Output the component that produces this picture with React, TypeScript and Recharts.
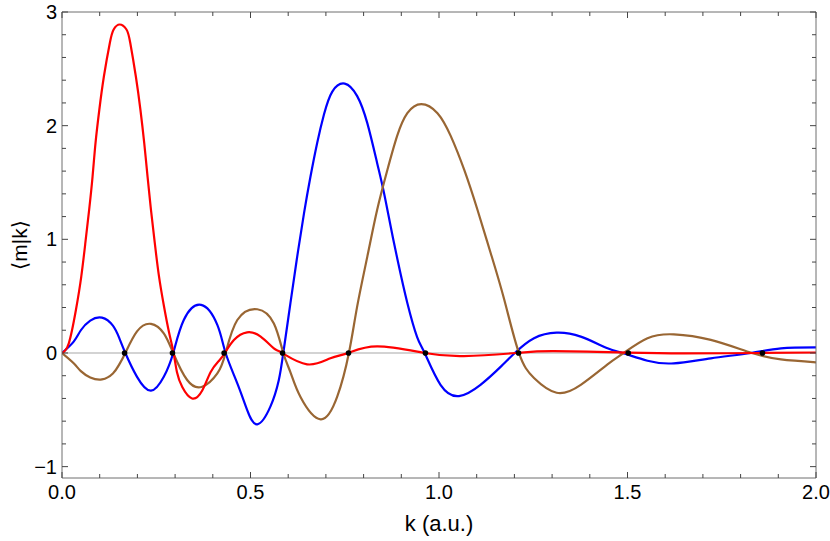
import { ComposedChart, Line, Scatter, XAxis, YAxis, ReferenceLine } from 'recharts';

// curves: [k, <m|k>]
const redCurve: [number, number][] = [
  [0, 0], [0.018, 0.085], [0.037, 0.38], [0.051, 0.67], [0.062, 0.97], [0.072, 1.26],
  [0.081, 1.55], [0.089, 1.85], [0.099, 2.14], [0.111, 2.43], [0.127, 2.73], [0.137, 2.846],
  [0.153, 2.89], [0.171, 2.846], [0.181, 2.73], [0.196, 2.43], [0.208, 2.14], [0.218, 1.85],
  [0.227, 1.55], [0.236, 1.26], [0.246, 0.97], [0.257, 0.68], [0.27, 0.42], [0.284, 0.18],
  [0.296, 0], [0.305, -0.17], [0.319, -0.3], [0.345, -0.4], [0.372, -0.33], [0.394, -0.17],
  [0.416, -0.07], [0.432, 0], [0.456, 0.115], [0.491, 0.182], [0.527, 0.144], [0.562, 0.04],
  [0.584, 0], [0.65, -0.1], [0.712, -0.047], [0.759, 0], [0.836, 0.058], [0.962, 0],
  [1.066, -0.028], [1.205, 0], [1.305, 0.016], [1.5, 0.003], [1.65, -0.004], [1.85, 0], [2, 0.004],
];

const blueCurve: [number, number][] = [
  [0, 0], [0.031, 0.1], [0.05, 0.2], [0.075, 0.285], [0.106, 0.311], [0.135, 0.24], [0.152, 0.13],
  [0.168, 0], [0.199, -0.21], [0.236, -0.332], [0.27, -0.21], [0.295, 0], [0.323, 0.29],
  [0.369, 0.423], [0.412, 0.247], [0.434, 0], [0.465, -0.267], [0.491, -0.5], [0.518, -0.628],
  [0.553, -0.47], [0.575, -0.24], [0.587, 0], [0.606, 0.44], [0.624, 0.85], [0.642, 1.23],
  [0.659, 1.55], [0.677, 1.85], [0.695, 2.1], [0.717, 2.3], [0.75, 2.37], [0.783, 2.26],
  [0.81, 2.02], [0.836, 1.67], [0.854, 1.41], [0.872, 1.11], [0.89, 0.82], [0.916, 0.44],
  [0.942, 0.14], [0.962, 0], [1.004, -0.28], [1.053, -0.379], [1.11, -0.28], [1.164, -0.12],
  [1.201, 0], [1.252, 0.13], [1.312, 0.179], [1.376, 0.144], [1.447, 0.041], [1.487, 0],
  [1.553, -0.068], [1.623, -0.091], [1.721, -0.047], [1.827, 0], [1.907, 0.041], [2, 0.05],
];

const brownCurve: [number, number][] = [
  [0, 0], [0.031, -0.09], [0.05, -0.16], [0.075, -0.215], [0.106, -0.232], [0.135, -0.18], [0.152, -0.1],
  [0.168, 0], [0.199, 0.19], [0.236, 0.256], [0.27, 0.173], [0.295, 0], [0.332, -0.238],
  [0.372, -0.297], [0.412, -0.18], [0.434, 0], [0.465, 0.29], [0.518, 0.385], [0.562, 0.26],
  [0.587, 0], [0.606, -0.17], [0.633, -0.39], [0.686, -0.584], [0.73, -0.385], [0.761, 0],
  [0.783, 0.41], [0.81, 0.85], [0.836, 1.26], [0.863, 1.61], [0.889, 1.91], [0.916, 2.11],
  [0.953, 2.19], [0.996, 2.11], [1.031, 1.91], [1.067, 1.61], [1.102, 1.26], [1.137, 0.88],
  [1.173, 0.47], [1.212, 0], [1.252, -0.22], [1.312, -0.35], [1.376, -0.28], [1.447, -0.1],
  [1.49, 0], [1.553, 0.13], [1.623, 0.164], [1.721, 0.115], [1.83, 0], [1.907, -0.056], [2, -0.082],
];

// black markers on the zero line
const zeroMarks = [0.166, 0.293, 0.43, 0.585, 0.76, 0.964, 1.211, 1.502, 1.858];

const xTicks = [0, 0.1, 0.2, 0.3, 0.4, 0.5, 0.6, 0.7, 0.8, 0.9, 1, 1.1, 1.2, 1.3, 1.4, 1.5, 1.6, 1.7, 1.8, 1.9, 2];
const xMajorTicks = [0, 0.5, 1, 1.5, 2];
const xTickLabels = ['0.0', '0.5', '1.0', '1.5', '2.0'];

const yTicks = [-1, -0.8, -0.6, -0.4, -0.2, 0, 0.2, 0.4, 0.6, 0.8, 1, 1.2, 1.4, 1.6, 1.8, 2, 2.2, 2.4, 2.6, 2.8, 3];
const yMajorTicks = [-1, 0, 1, 2, 3];
const yTickLabels = ['\u22121', '0', '1', '2', '3'];

const toRows = (pts: [number, number][]) => pts.map(([k, v]) => ({ k, v }));
const redData = toRows(redCurve);
const blueData = toRows(blueCurve);
const brownData = toRows(brownCurve);
const markData = zeroMarks.map((k) => ({ k, v: 0 }));

const TICK = '#444';
const FRAME = '#6e6e6e';

function BottomTick({ x, y, payload }: any) {
  const i = xMajorTicks.indexOf(payload.value);
  return (
    <g>
      <line x1={x} x2={x} y1={y} y2={y - (i >= 0 ? 6 : 4)} stroke={TICK} />
      {i >= 0 && (
        <text x={x} y={y + 21} textAnchor="middle" fontSize={20} fill="#000">
          {xTickLabels[i]}
        </text>
      )}
    </g>
  );
}

function TopTick({ x, y, payload }: any) {
  const major = xMajorTicks.includes(payload.value);
  return <line x1={x} x2={x} y1={y} y2={y + (major ? 6 : 4)} stroke={TICK} />;
}

function LeftTick({ x, y, payload }: any) {
  const i = yMajorTicks.indexOf(payload.value);
  return (
    <g>
      <line x1={x} x2={x + (i >= 0 ? 6 : 4)} y1={y} y2={y} stroke={TICK} />
      {i >= 0 && (
        <text x={x - 5} y={y + 7} textAnchor="end" fontSize={20} fill="#000">
          {yTickLabels[i]}
        </text>
      )}
    </g>
  );
}

function RightTick({ x, y, payload }: any) {
  const major = yMajorTicks.includes(payload.value);
  return <line x1={x} x2={x - (major ? 6 : 4)} y1={y} y2={y} stroke={TICK} />;
}

export default function App() {
  return (
    <div style={{ width: 830, height: 541, fontFamily: '"Liberation Sans", Arial, "DejaVu Sans", sans-serif' }}>
      <style>{'body{margin:0}'}</style>
      <ComposedChart width={830} height={541} margin={{ top: 11, right: 13, bottom: 0, left: 0 }}>
        <XAxis
          xAxisId="b"
          dataKey="k"
          type="number"
          domain={[0, 2]}
          allowDataOverflow
          ticks={xTicks}
          interval={0}
          height={63}
          tickSize={0}
          tickMargin={0}
          tickLine={false}
          axisLine={{ stroke: FRAME }}
          tick={<BottomTick />}
          label={{
            content: ({ viewBox }: any) => (
              <text x={viewBox.x + viewBox.width / 2} y={viewBox.y + 53} textAnchor="middle" fontSize={22} fill="#000">
                k (a.u.)
              </text>
            ),
          }}
        />
        <XAxis
          xAxisId="t"
          orientation="top"
          dataKey="k"
          type="number"
          domain={[0, 2]}
          allowDataOverflow
          ticks={xTicks}
          interval={0}
          height={1}
          tickSize={0}
          tickMargin={0}
          tickLine={false}
          axisLine={{ stroke: FRAME }}
          tick={<TopTick />}
        />
        <YAxis
          yAxisId="l"
          type="number"
          domain={[-1.1, 3]}
          allowDataOverflow
          ticks={yTicks}
          interval={0}
          width={62}
          tickSize={0}
          tickMargin={0}
          tickLine={false}
          axisLine={{ stroke: FRAME }}
          tick={<LeftTick />}
          label={{
            content: ({ viewBox }: any) => {
              const cx = viewBox.x + 27;
              const cy = viewBox.y + viewBox.height / 2;
              return (
                <text x={cx} y={cy} transform={`rotate(-90 ${cx} ${cy})`} textAnchor="middle" fontSize={21} fill="#000">
                  ⟨m|k⟩
                </text>
              );
            },
          }}
        />
        <YAxis
          yAxisId="r"
          orientation="right"
          type="number"
          domain={[-1.1, 3]}
          allowDataOverflow
          ticks={yTicks}
          interval={0}
          width={1}
          tickSize={0}
          tickMargin={0}
          tickLine={false}
          axisLine={{ stroke: FRAME }}
          tick={<RightTick />}
        />
        <ReferenceLine xAxisId="b" yAxisId="l" y={0} stroke="#a8a8a8" strokeWidth={1.2} />
        <Line xAxisId="b" yAxisId="l" data={blueData} dataKey="v" type="natural" stroke="#0000ff" strokeWidth={2.2} dot={false} isAnimationActive={false} />
        <Line xAxisId="b" yAxisId="l" data={brownData} dataKey="v" type="natural" stroke="#996633" strokeWidth={2.2} dot={false} isAnimationActive={false} />
        <Line xAxisId="b" yAxisId="l" data={redData} dataKey="v" type="natural" stroke="#ff0000" strokeWidth={2.2} dot={false} isAnimationActive={false} />
        <Scatter
          xAxisId="b"
          yAxisId="l"
          data={markData}
          dataKey="v"
          isAnimationActive={false}
          shape={(p: any) => <circle cx={p.cx} cy={p.cy} r={2.8} fill="#000" />}
        />
      </ComposedChart>
    </div>
  );
}
